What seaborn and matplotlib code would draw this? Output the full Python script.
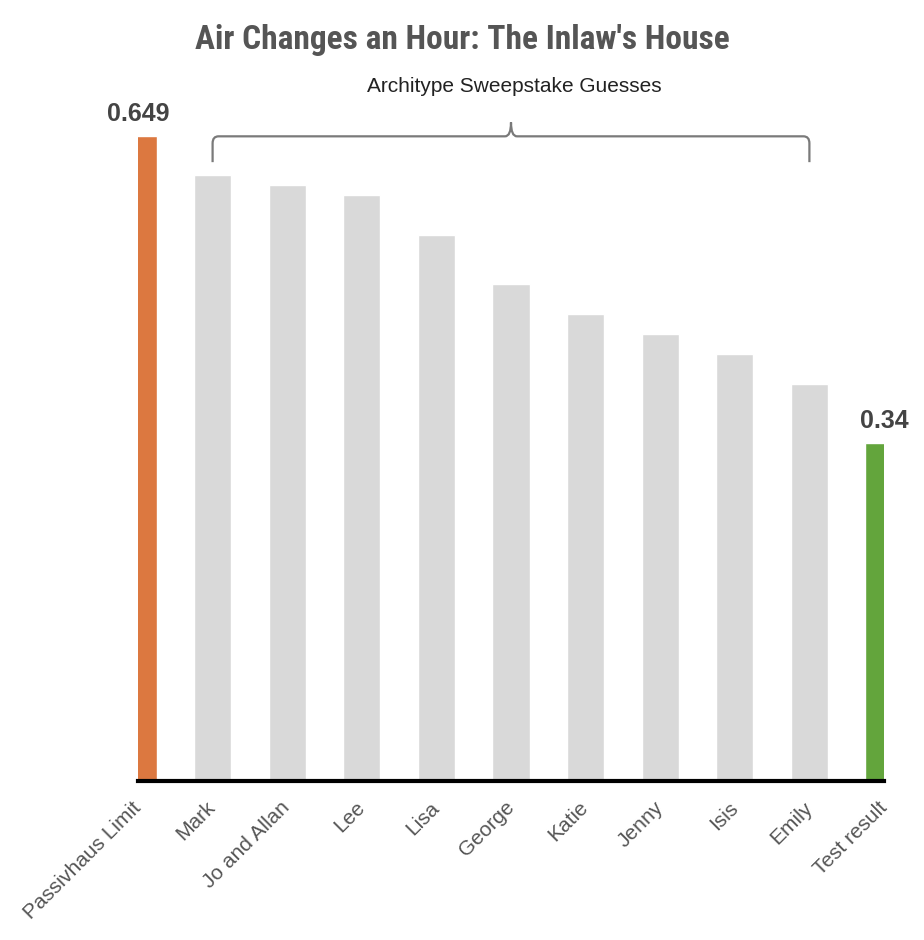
import matplotlib
matplotlib.use('Agg')
import matplotlib.pyplot as plt
import seaborn as sns
import pandas as pd
from matplotlib.path import Path
from matplotlib.patches import PathPatch
from matplotlib import font_manager

# dados
nomes = ['Passivhaus Limit', 'Mark', 'Jo and Allan', 'Lee', 'Lisa', 'George',
         'Katie', 'Jenny', 'Isis', 'Emily', 'Test result']
valores = [0.649, 0.61, 0.60, 0.59, 0.55, 0.50, 0.47, 0.45, 0.43, 0.40, 0.34]
cores = ['#DC7840'] + ['#D9D9D9'] * 9 + ['#63A53C']
rotulos_valor = {0: '0.649', 10: '0.34'}

sns.set_style('white')
plt.rcParams['font.family'] = ['Liberation Sans', 'DejaVu Sans']

# fontes condensadas disponiveis (para o titulo)
instaladas = {f.name for f in font_manager.fontManager.ttflist}
print(sorted(n for n in instaladas if 'ond' in n or 'arrow' in n))

df = pd.DataFrame({'nome': nomes, 'valor': valores})

fig = plt.figure(figsize=(9.24, 9.40), dpi=100)
ax = fig.add_axes([138 / 924, 159 / 940, 746 / 924, 745 / 940])

sns.barplot(data=df, x='nome', y='valor', hue='nome', palette=cores,
            width=0.5, saturation=1, legend=False, ax=ax)

ax.set_xlim(0, len(nomes) - 1)
ax.set_ylim(0, 0.75)
ax.set_xlabel('')
ax.set_ylabel('')
ax.set_yticks([])
ax.set_xticks(range(len(nomes)))
ax.set_xticklabels(nomes, rotation=45, ha='right', va='center',
                   rotation_mode='anchor', fontsize=15, color='#555555')
ax.tick_params(axis='x', length=0, pad=17)

for s in ['top', 'right', 'left']:
    ax.spines[s].set_visible(False)
ax.spines['bottom'].set_color('black')
ax.spines['bottom'].set_linewidth(3)

# rotulos dos valores
for i, txt in rotulos_valor.items():
    ax.text(i, valores[i] + 0.01, txt, ha='center', va='bottom',
            fontsize=18, fontweight='bold', color='#444444', clip_on=False)

# chave sobre os palpites
x0, x1, xm = 1, 9, 5
yb, yh, yp = 0.623, 0.649, 0.663
dx, dy = 0.08, 0.007
verts = [(x0, yb), (x0, yh - dy), (x0, yh), (x0 + dx, yh),
         (xm - dx, yh), (xm, yh), (xm, yp),
         (xm, yh), (xm + dx, yh),
         (x1 - dx, yh), (x1, yh), (x1, yh - dy), (x1, yb)]
codes = [Path.MOVETO, Path.LINETO, Path.CURVE3, Path.CURVE3,
         Path.LINETO, Path.CURVE3, Path.CURVE3,
         Path.CURVE3, Path.CURVE3,
         Path.LINETO, Path.CURVE3, Path.CURVE3, Path.LINETO]
ax.add_patch(PathPatch(Path(verts, codes), fill=False, edgecolor='#7a7a7a',
                       linewidth=1.6, clip_on=False))
ax.text(xm + 0.05, 0.699, 'Architype Sweepstake Guesses', ha='center',
        va='center', fontsize=15, color='#222222')

fig.text(462 / 924, 1 - 40 / 940, "Air Changes an Hour: The Inlaw's House",
         ha='center', va='center', fontsize=24, fontweight='bold',
         fontstretch='condensed', color='#555555',
         family=['Roboto Condensed', 'Liberation Sans Narrow', 'DejaVu Sans'])

fig.savefig('out.png', dpi=100)
